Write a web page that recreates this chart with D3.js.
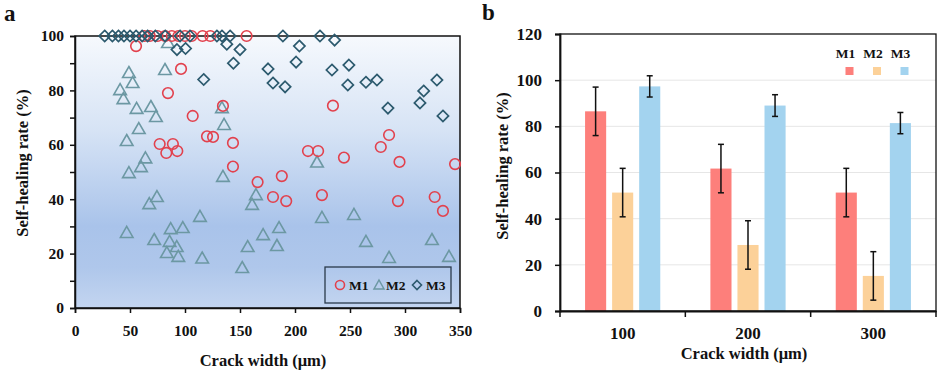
<!DOCTYPE html>
<html><head><meta charset="utf-8">
<script src="https://cdn.jsdelivr.net/npm/d3@7"></script>
<style>
body{margin:0;background:#fff;}
svg text{font-family:"Liberation Serif","Times New Roman",serif;font-weight:bold;fill:#111;}
</style></head>
<body>
<svg id="c" width="941" height="372"></svg>
<script>
// ---------- Panel a data ----------
const m1X = [63,68,75,82,88,94,100,106,116,123,156,55.5,96.4,84.5,107,120,125.5,77,89,83,93,134.5,143.6,143.6,166,188,180,192,211.8,221,224.5,234.5,244.5,278,285.5,295,293.6,327,334.5,345.5];
const m1Y = [100,100,100,100,100,100,100,100,100,100,100,96.3,87.9,79,70.6,63.1,62.9,60.3,60.3,57,57.7,74.3,60.7,52,46.3,48.5,40.8,39.3,57.7,57.7,41.5,74.4,55.3,59.2,63.6,53.7,39.3,40.8,35.7,52.9];
const m2X = [84.5,81.8,49,52.4,41,44,56,69,73.6,58,47,64,60,49,67.5,74.5,113.6,47,72,87,98,86,92.5,83.5,93.9,115.6,133.6,135.5,134.5,164.5,161,152,157,171,183.6,185.5,220,224.5,253.6,264.5,285.5,324.5,340];
const m2Y = [97.4,87.5,86.4,82.7,80.1,76.8,73.2,73.9,70.2,65.8,61.4,55,51.8,49.6,38.2,40.8,33.5,27.6,25,29,29.4,24.3,22.4,20.2,18.8,18.2,73.5,67.3,48.2,41.5,37.9,14.7,22.4,26.8,22.8,29.4,53.5,33.1,34.2,24.3,18.4,25,18.8];
const m3X = [27,34,39.5,44.5,50,55.5,61,66,73,82,95.5,104.5,129,133.6,141,189,222.7,92.7,100.5,117,138,150,144,204,201,175.5,180,191,233.6,236,249,248,264.5,274.5,284.5,317,329,313.6,334.5];
const m3Y = [100,100,100,100,100,100,100,100,100,100,100,100,100,100,100,100,100,95,95.4,84,97,95,90,96.3,90.4,87.9,82.7,81.3,87.5,98.5,89.3,82,83,83.8,73.5,79.8,83.8,75.4,70.6];
const aXTicks = [0,50,100,150,200,250,300,350];
const aYTicks = [0,20,40,60,80,100];

// ---------- Panel b data ----------
const widths = ["100","200","300"];
const seriesNames = ["M1","M2","M3"];
const m1Mean = [86.5,61.7,51.3];
const m2Mean = [51.3,28.6,15.2];
const m3Mean = [97.3,89.0,81.4];
const m1Err = [10.5,10.5,10.5];
const m2Err = [10.5,10.5,10.5];
const m3Err = [4.6,4.7,4.6];
const bYTicks = [0,20,40,60,80,100,120];

const svg = d3.select("#c");

// ================= Panel a =================
const ax = d3.scaleLinear().domain([0,350]).range([75,460]);
const ay = d3.scaleLinear().domain([0,100]).range([308,36]);

const defs = svg.append("defs");
const grad = defs.append("linearGradient").attr("id","bgA").attr("x1",0).attr("y1",0).attr("x2",0).attr("y2",1);
[["0%","#f6f9fd"],["35%","#d6e3f5"],["70%","#a9c3ea"],["85%","#afc7eb"],["100%","#c3d5f0"]]
  .forEach(s=>grad.append("stop").attr("offset",s[0]).attr("stop-color",s[1]));

svg.append("rect").attr("x",ax(0)).attr("y",ay(100)).attr("width",ax(350)-ax(0)).attr("height",ay(0)-ay(100)).attr("fill","url(#bgA)");

const gA = svg.append("g");
// frame
gA.append("rect").attr("x",ax(0)).attr("y",ay(100)).attr("width",ax(350)-ax(0)).attr("height",ay(0)-ay(100))
  .attr("fill","none").attr("stroke","#111").attr("stroke-width",1.5);

// axes
const axA = gA.append("g").attr("transform",`translate(0,${ay(0)})`)
  .call(d3.axisBottom(ax).tickValues(aXTicks).tickSize(5).tickPadding(12).tickFormat(d3.format("d")));
const ayA = gA.append("g").attr("transform",`translate(${ax(0)},0)`)
  .call(d3.axisLeft(ay).ticks(10).tickSize(5).tickPadding(6).tickFormat(d=> aYTicks.includes(d)? d : ""));
[axA,ayA].forEach(g=>{
  g.select(".domain").attr("stroke","#111").attr("stroke-width",1.5);
  g.selectAll(".tick line").attr("stroke","#111").attr("stroke-width",1.5);
  g.selectAll(".tick text").style("font-size","15.5px").attr("fill","#111");
});

// markers
const triPath = "M0,-6.5L6.3,4.5L-6.3,4.5Z";
const diaPath = "M0,-5.6L5.6,0L0,5.6L-5.6,0Z";
const cRed = "#e2414d", cTri = "#6c98a3", cDia = "#2c5a6e";

gA.append("g").selectAll("path").data(m2X.map((x,i)=>[x,m2Y[i]])).join("path")
  .attr("d",triPath).attr("transform",d=>`translate(${ax(d[0])},${ay(d[1])})`)
  .attr("fill","none").attr("stroke",cTri).attr("stroke-width",1.6);
gA.append("g").selectAll("circle").data(m1X.map((x,i)=>[x,m1Y[i]])).join("circle")
  .attr("cx",d=>ax(d[0])).attr("cy",d=>ay(d[1])).attr("r",5.3)
  .attr("fill","none").attr("stroke",cRed).attr("stroke-width",1.6);
gA.append("g").selectAll("path").data(m3X.map((x,i)=>[x,m3Y[i]])).join("path")
  .attr("d",diaPath).attr("transform",d=>`translate(${ax(d[0])},${ay(d[1])})`)
  .attr("fill","none").attr("stroke",cDia).attr("stroke-width",1.7);

// legend a
const lg = gA.append("g");
lg.append("rect").attr("x",325).attr("y",267).attr("width",126).attr("height",36)
  .attr("fill","none").attr("stroke","#2a3a4a").attr("stroke-width",1.3);
lg.append("circle").attr("cx",340).attr("cy",285).attr("r",4.5).attr("fill","none").attr("stroke",cRed).attr("stroke-width",1.6);
lg.append("text").attr("x",349).attr("y",285).attr("dy","0.35em").style("font-size","13.5px").text("M1");
lg.append("path").attr("d","M0,-5L5,4L-5,4Z").attr("transform","translate(379,285)").attr("fill","none").attr("stroke",cTri).attr("stroke-width",1.5);
lg.append("text").attr("x",386).attr("y",285).attr("dy","0.35em").style("font-size","13.5px").text("M2");
lg.append("path").attr("d","M0,-4.5L4.5,0L0,4.5L-4.5,0Z").attr("transform","translate(417,285)").attr("fill","none").attr("stroke",cDia).attr("stroke-width",1.6);
lg.append("text").attr("x",426).attr("y",285).attr("dy","0.35em").style("font-size","13.5px").text("M3");

// titles a
svg.append("text").attr("x",263).attr("y",360).attr("dy","0.35em").attr("text-anchor","middle").style("font-size","16.5px").text("Crack width (μm)");
svg.append("text").attr("transform","translate(22,163) rotate(-90)").attr("dy","0.35em").attr("text-anchor","middle").style("font-size","16.5px").text("Self-healing rate (%)");
svg.append("text").attr("x",4).attr("y",21).style("font-size","23px").text("a");

// ================= Panel b =================
const bx0 = d3.scaleBand().domain(widths).range([560,936]).paddingInner(0.4).paddingOuter(0.2);
const bx1 = d3.scaleBand().domain(seriesNames).range([0,bx0.bandwidth()]).paddingInner(0.22);
const by = d3.scaleLinear().domain([0,120]).range([311,34]);
const bColors = {M1:"#fd7f7b",M2:"#fcd199",M3:"#a3d3ef"};
const means = {M1:m1Mean,M2:m2Mean,M3:m3Mean};
const errs = {M1:m1Err,M2:m2Err,M3:m3Err};

const gB = svg.append("g");
// gridlines
gB.append("g").selectAll("line").data(bYTicks.filter(d=>d>0&&d<120)).join("line")
  .attr("x1",560).attr("x2",936).attr("y1",d=>by(d)).attr("y2",d=>by(d))
  .attr("stroke","#e6e6e6").attr("stroke-width",1);

const barData = [];
widths.forEach((w,i)=>seriesNames.forEach(s=>barData.push({w,s,v:means[s][i],e:errs[s][i]})));
gB.append("g").selectAll("rect").data(barData).join("rect")
  .attr("x",d=>bx0(d.w)+bx1(d.s)).attr("width",bx1.bandwidth())
  .attr("y",d=>by(d.v)).attr("height",d=>by(0)-by(d.v)).attr("fill",d=>bColors[d.s]);

// error bars
const eg = gB.append("g").attr("stroke","#111").attr("stroke-width",1.5);
barData.forEach(d=>{
  const cx = bx0(d.w)+bx1(d.s)+bx1.bandwidth()/2;
  eg.append("line").attr("x1",cx).attr("x2",cx).attr("y1",by(d.v+d.e)).attr("y2",by(d.v-d.e));
  eg.append("line").attr("x1",cx-3).attr("x2",cx+3).attr("y1",by(d.v+d.e)).attr("y2",by(d.v+d.e));
  eg.append("line").attr("x1",cx-3).attr("x2",cx+3).attr("y1",by(d.v-d.e)).attr("y2",by(d.v-d.e));
});

// frame
gB.append("rect").attr("x",560).attr("y",by(120)).attr("width",376).attr("height",by(0)-by(120))
  .attr("fill","none").attr("stroke","#111").attr("stroke-width",1.3);
// y axis
const byA = gB.append("g").attr("transform","translate(560,0)")
  .call(d3.axisLeft(by).tickValues(bYTicks).tickSize(5).tickPadding(13));
byA.select(".domain").attr("stroke","#111").attr("stroke-width",1.8);
byA.selectAll(".tick line").attr("stroke","#111").attr("stroke-width",1.5);
byA.selectAll(".tick text").style("font-size","17px").attr("fill","#111");
// x axis
const bxA = gB.append("g").attr("transform",`translate(0,${by(0)})`)
  .call(d3.axisBottom(bx0).tickSize(0).tickPadding(16));
bxA.select(".domain").attr("stroke","#111").attr("stroke-width",1.8);
bxA.selectAll(".tick text").style("font-size","17px").attr("fill","#111");
const boundaries = [560].concat(widths.map(w=>bx0(w)+bx0.bandwidth()+bx0.step()*bx0.paddingInner()/2));
boundaries[boundaries.length-1] = 936;
gB.append("g").selectAll("line").data(boundaries).join("line")
  .attr("x1",d=>d).attr("x2",d=>d).attr("y1",by(0)).attr("y2",by(0)+6)
  .attr("stroke","#111").attr("stroke-width",1.5);

// legend b
const lgx = {M1:849.5,M2:877,M3:904.5};
seriesNames.forEach(s=>{
  gB.append("text").attr("x",lgx[s]-4).attr("y",53).attr("dy","0.35em").attr("text-anchor","middle").style("font-size","13.5px").text(s);
  gB.append("rect").attr("x",lgx[s]-4).attr("y",67).attr("width",8).attr("height",8).attr("fill",bColors[s]);
});

// titles b
svg.append("text").attr("x",744).attr("y",353).attr("dy","0.35em").attr("text-anchor","middle").style("font-size","16.5px").text("Crack width (μm)");
svg.append("text").attr("transform","translate(502,166) rotate(-90)").attr("dy","0.35em").attr("text-anchor","middle").style("font-size","16.5px").text("Self-healing rate (%)");
svg.append("text").attr("x",482).attr("y",20).style("font-size","23px").text("b");
</script>
</body></html>
